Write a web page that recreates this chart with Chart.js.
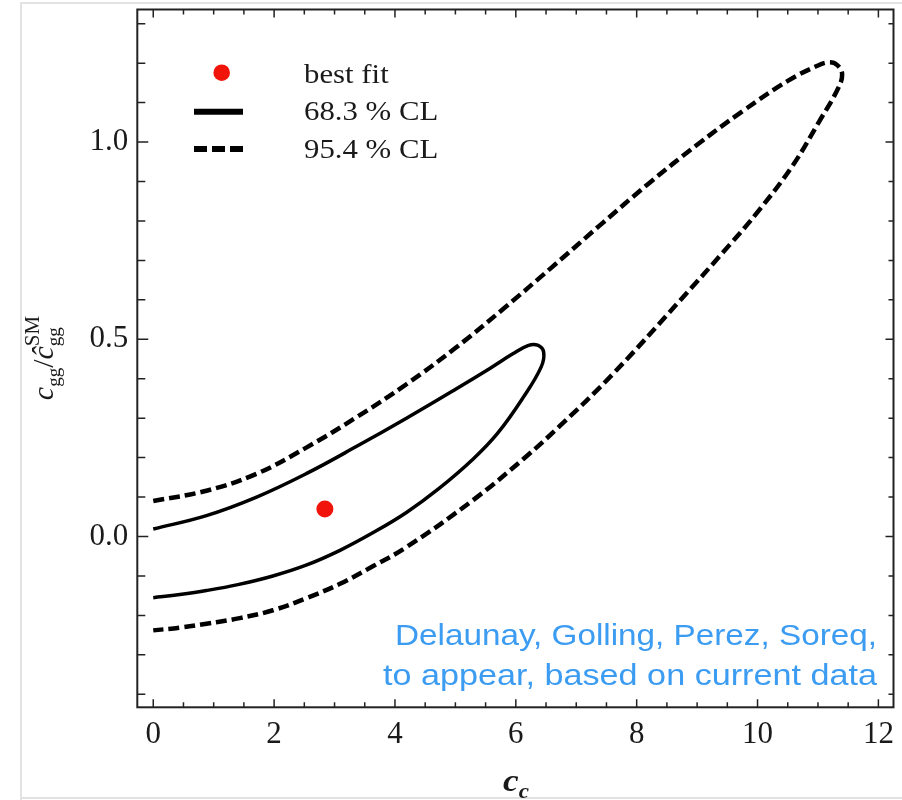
<!DOCTYPE html>
<html>
<head>
<meta charset="utf-8">
<script src="https://cdn.jsdelivr.net/npm/chart.js@4.4.1/dist/chart.umd.min.js"></script>
<style>
  html, body { margin: 0; padding: 0; background: #fff; }
  #wrap { width: 902px; height: 800px; }
</style>
</head>
<body>
<div id="wrap"><canvas id="myChart" width="902" height="800"></canvas></div>
<script>
// 軸の目盛り
const xTicks = [0, 2, 4, 6, 8, 10, 12];
const yTicks = [0.0, 0.5, 1.0];

// 68.3% CL の等高線 (閉曲線: 上側 → 先端 → 下側)
const cl68X = [0, 0.88, 1.71, 2.54, 3.36, 4.19, 5.01, 5.57, 5.95, 6.2, 6.36, 6.46, 6.42, 6.12, 5.7, 5.29, 4.73, 4.19, 3.64, 3.09, 2.54, 1.98, 1.4, 0.88, 0.44, 0];
const cl68Y = [0.019, 0.053, 0.1, 0.16, 0.228, 0.3, 0.374, 0.426, 0.463, 0.484, 0.485, 0.468, 0.43, 0.352, 0.262, 0.196, 0.122, 0.061, 0.01, -0.035, -0.072, -0.1, -0.122, -0.137, -0.147, -0.155];

// 95.4% CL の等高線
const cl95X = [0, 0.88, 1.71, 2.54, 3.36, 4.19, 5.01, 5.8, 6.6, 7.4, 8.2, 9.0, 9.75, 10.5, 10.97, 11.18, 11.32, 11.40, 11.33, 11.02, 10.58, 10.03, 9.53, 8.71, 7.60, 6.72, 6.12, 5.29, 4.19, 3.64, 3.09, 2.54, 1.98, 1.43, 0.88, 0.44, 0];
const cl95Y = [0.09, 0.116, 0.159, 0.226, 0.302, 0.386, 0.479, 0.578, 0.683, 0.79, 0.895, 0.993, 1.078, 1.155, 1.192, 1.202, 1.195, 1.172, 1.135, 1.052, 0.94, 0.828, 0.738, 0.597, 0.411, 0.279, 0.196, 0.092, -0.027, -0.075, -0.120, -0.156, -0.187, -0.207, -0.221, -0.231, -0.238];

// ベストフィット
const bestFitX = [2.84];
const bestFitY = [0.07];

// 凡例と注記
const legendLabels = ['best fit', '68.3 % CL', '95.4 % CL'];
const noteLines = ['Delaunay, Golling, Perez, Soreq,', 'to appear, based on current data'];

const toPoints = (xs, ys) => xs.map((x, i) => ({ x: x, y: ys[i] }));

// 横に少し引き伸ばした文字列の描画
function drawRich(ctx, parts, x, y, sx) {
    let total = 0;
    parts.forEach(p => {
        ctx.font = p.font;
        p.w = ctx.measureText(p.text).width;
        if (p.sup) {
            ctx.font = p.supFont;
            p.w = Math.max(p.w, ctx.measureText(p.sup).width);
        }
        total += p.w;
    });
    ctx.save();
    ctx.translate(x, y);
    ctx.scale(sx, 1);
    let cx = -total / 2;
    ctx.textAlign = 'left';
    ctx.textBaseline = 'alphabetic';
    parts.forEach(p => {
        ctx.font = p.font;
        ctx.fillText(p.text, cx, p.dy || 0);
        if (p.sup) {
            ctx.font = p.supFont;
            ctx.fillText(p.sup, cx, p.supDy);
        }
        cx += p.w;
    });
    ctx.restore();
}

const framePlugin = {
    id: 'framePlugin',
    beforeDraw(chart) {
        const ctx = chart.ctx;
        ctx.save();
        ctx.fillStyle = '#fff';
        ctx.fillRect(0, 0, chart.width, chart.height);
        // ページの縁
        ctx.strokeStyle = '#e2e2e2';
        ctx.lineWidth = 2;
        ctx.beginPath();
        ctx.moveTo(21, 800);
        ctx.lineTo(21, 3);
        ctx.lineTo(902, 3);
        ctx.moveTo(21, 798);
        ctx.lineTo(902, 798);
        ctx.stroke();
        ctx.restore();
    },
    afterDraw(chart) {
        const ctx = chart.ctx;
        const a = chart.chartArea;
        const xs = chart.scales.x, ys = chart.scales.y;
        ctx.save();
        ctx.strokeStyle = '#222';
        ctx.lineWidth = 2;
        ctx.strokeRect(a.left, a.top, a.right - a.left, a.bottom - a.top);

        // 内向きの目盛り
        ctx.lineWidth = 1.5;
        ctx.beginPath();
        for (let i = 0; i <= 24; i++) {
            const v = i * 0.5;
            const px = xs.getPixelForValue(v);
            const len = (i % 4 === 0) ? 8 : 5;
            ctx.moveTo(px, a.bottom); ctx.lineTo(px, a.bottom - len);
            ctx.moveTo(px, a.top); ctx.lineTo(px, a.top + len);
        }
        for (let i = -4; i <= 13; i++) {
            const v = i / 10;
            const py = ys.getPixelForValue(v);
            const major = (i % 5 === 0);
            ctx.moveTo(a.left, py); ctx.lineTo(a.left + (major ? 11 : 8), py);
            ctx.moveTo(a.right, py); ctx.lineTo(a.right - (major ? 8 : 5), py);
        }
        ctx.stroke();

        // 凡例
        ctx.fillStyle = '#f0140a';
        ctx.beginPath();
        ctx.arc(221.7, 72.7, 8.3, 0, Math.PI * 2);
        ctx.fill();
        ctx.strokeStyle = '#000';
        ctx.lineWidth = 6;
        ctx.beginPath();
        ctx.moveTo(194, 111.7); ctx.lineTo(243, 111.7);
        ctx.stroke();
        ctx.setLineDash([13, 5]);
        ctx.beginPath();
        ctx.moveTo(194, 149); ctx.lineTo(243, 149);
        ctx.stroke();
        ctx.setLineDash([]);

        ctx.fillStyle = '#1a1a1a';
        ctx.font = '28px "Liberation Serif"';
        ctx.textBaseline = 'alphabetic';
        const baselines = [82.7, 120, 158];
        legendLabels.forEach((t, i) => {
            ctx.save();
            ctx.translate(304, baselines[i]);
            ctx.scale(1.1, 1);
            ctx.fillText(t, 0, 0);
            ctx.restore();
        });

        // 注記 (行ごとに幅を合わせる)
        ctx.fillStyle = '#3b9cf2';
        ctx.font = '29px "Liberation Sans"';
        ctx.textAlign = 'right';
        const noteWidths = [482, 494];
        [645, 685].forEach((b, i) => {
            const w = ctx.measureText(noteLines[i]).width;
            ctx.save();
            ctx.translate(877, b);
            ctx.scale(noteWidths[i] / w, 1);
            ctx.fillText(noteLines[i], 0, 0);
            ctx.restore();
        });

        // x軸タイトル
        ctx.fillStyle = '#1a1a1a';
        drawRich(ctx, [
            { text: 'c', font: 'bold italic 32px "Liberation Serif"' },
            { text: 'c', font: 'bold italic 21px "Liberation Serif"', dy: 7 }
        ], 516, 791, 1.1);

        // y軸タイトル
        ctx.save();
        ctx.translate(53, 358);
        ctx.rotate(-Math.PI / 2);
        drawRich(ctx, [
            { text: 'c', font: 'italic 30px "Liberation Serif"' },
            { text: 'gg', font: '19px "Liberation Serif"', dy: 7 },
            { text: '/', font: '30px "Liberation Serif"' },
            { text: 'ĉ', font: 'italic 30px "Liberation Serif"' },
            { text: 'gg', font: '19px "Liberation Serif"', dy: 7, sup: 'SM', supFont: '21px "Liberation Serif"', supDy: -14 }
        ], 0, 0, 1.0);
        ctx.restore();
        ctx.restore();
    }
};

const ctx = document.getElementById('myChart').getContext('2d');
const myChart = new Chart(ctx, {
    type: 'scatter',
    data: {
        datasets: [
            {
                label: '95.4 % CL',
                data: toPoints(cl95X, cl95Y),
                showLine: true,
                borderColor: '#000',
                borderWidth: 4.5,
                borderDash: [11, 5],
                borderCapStyle: 'butt',
                pointRadius: 0,
                tension: 0.4
            },
            {
                label: '68.3 % CL',
                data: toPoints(cl68X, cl68Y),
                showLine: true,
                borderColor: '#000',
                borderWidth: 3.5,
                pointRadius: 0,
                tension: 0.4
            },
            {
                label: 'best fit',
                data: toPoints(bestFitX, bestFitY),
                pointRadius: 8.5,
                pointBackgroundColor: '#f0140a',
                pointBorderWidth: 0
            }
        ]
    },
    options: {
        responsive: false,
        animation: false,
        devicePixelRatio: 1,
        layout: { padding: { top: 9.5, right: 7.7, bottom: 0, left: 0 } },
        plugins: {
            legend: { display: false },
            tooltip: { enabled: false }
        },
        scales: {
            x: {
                type: 'linear',
                min: -0.264,
                max: 12.25,
                grid: { display: false, drawTicks: false },
                border: { display: false },
                ticks: {
                    stepSize: 2,
                    includeBounds: false,
                    autoSkip: false,
                    maxRotation: 0,
                    padding: 9,
                    color: '#1a1a1a',
                    font: { family: 'Liberation Serif', size: 31 },
                    callback: v => xTicks.includes(v) ? String(v) : ''
                },
                afterFit: s => {
                    s.height = 92.7;
                    s.paddingLeft = 0;
                    s.paddingRight = 0;
                }
            },
            y: {
                type: 'linear',
                min: -0.433,
                max: 1.336,
                grid: { display: false, drawTicks: false },
                border: { display: false },
                ticks: {
                    stepSize: 0.5,
                    includeBounds: false,
                    autoSkip: false,
                    padding: 9,
                    color: '#1a1a1a',
                    font: { family: 'Liberation Serif', size: 31 },
                    callback: v => yTicks.some(t => Math.abs(t - v) < 1e-9) ? v.toFixed(1) : ''
                },
                afterFit: s => {
                    s.width = 137.3;
                    s.paddingTop = 0;
                    s.paddingBottom = 0;
                }
            }
        }
    },
    plugins: [framePlugin]
});
</script>
</body>
</html>
